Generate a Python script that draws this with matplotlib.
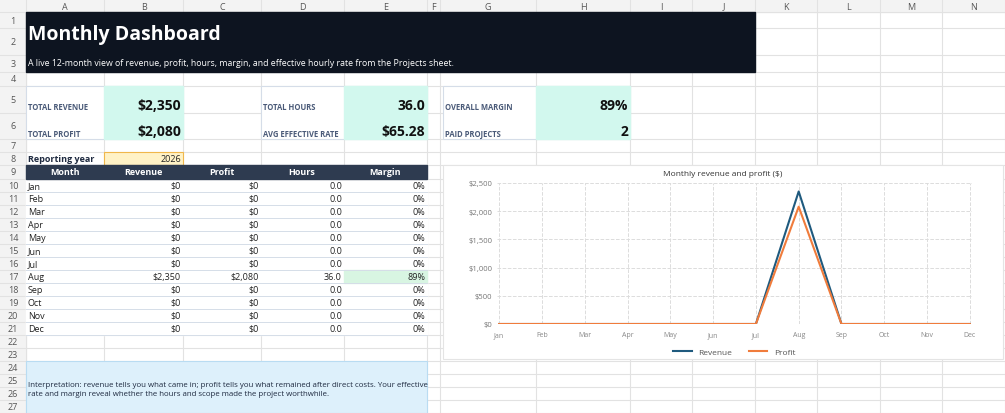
import matplotlib.pyplot as plt
from matplotlib.patches import Rectangle

plt.rcParams['font.family'] = ['Open Sans', 'DejaVu Sans']

months = ['Jan', 'Feb', 'Mar', 'Apr', 'May', 'Jun', 'Jul', 'Aug', 'Sep', 'Oct', 'Nov', 'Dec']
revenue = [0, 0, 0, 0, 0, 0, 0, 2350, 0, 0, 0, 0]
profit = [0, 0, 0, 0, 0, 0, 0, 2080, 0, 0, 0, 0]
hours = [0, 0, 0, 0, 0, 0, 0, 36.0, 0, 0, 0, 0]
margin = [0, 0, 0, 0, 0, 0, 0, 89, 0, 0, 0, 0]
col_letters = ['A', 'B', 'C', 'D', 'E', 'F', 'G', 'H', 'I', 'J', 'K', 'L', 'M', 'N']

W, H = 1005, 414
fig = plt.figure(figsize=(W / 100, H / 100), dpi=100)
ax = fig.add_axes([0, 0, 1, 1])
ax.set_xlim(0, W)
ax.set_ylim(H, 0)
ax.axis('off')

cx = [26, 104, 183, 261, 344, 427, 440, 536, 630, 692, 755, 817, 880, 942, 1005]
ry = [13, 29, 56, 73, 87, 114, 140, 153, 166, 180] + [180 + 13 * k for k in range(1, 18)] + [414]
grid_c = '#e2e2e2'

# gridlines (under everything)
for x in cx:
    ax.plot([x, x], [0, H], color=grid_c, lw=0.8, zorder=0.5)
for y in ry:
    ax.plot([0, W], [y, y], color=grid_c, lw=0.8, zorder=0.5)
# headers
ax.add_patch(Rectangle((0, 0), W, 13, color='#f3f3f3', zorder=0.4))
ax.add_patch(Rectangle((0, 0), 26, H, color='#f3f3f3', zorder=0.4))
for i, l in enumerate(col_letters):
    ax.text((cx[i] + cx[i + 1]) / 2, 7, l, ha='center', va='center', fontsize=6.5, color='#555')
for i in range(len(ry) - 1):
    ax.text(13, (ry[i] + ry[i + 1]) / 2, str(i + 1), ha='center', va='center', fontsize=6.5, color='#555')

# title block
ax.add_patch(Rectangle((26, 13), 729, 60, color='#0d1420'))
ax.text(28, 35, 'Monthly Dashboard', color='white', fontsize=14, fontweight='bold', va='center')
ax.text(28, 64, 'A live 12-month view of revenue, profit, hours, margin, and effective hourly rate from the Projects sheet.',
        color='white', fontsize=6.3, va='center')

# KPI cards
cards = [(26, 104, 183, [('TOTAL REVENUE', '$2,350'), ('TOTAL PROFIT', '$2,080')]),
         (261, 344, 427, [('TOTAL HOURS', '36.0'), ('AVG EFFECTIVE RATE', '$65.28')]),
         (443, 536, 630, [('OVERALL MARGIN', '89%'), ('PAID PROJECTS', '2')])]
for x0, xm, x1, items in cards:
    ax.add_patch(Rectangle((x0, 87), x1 - x0, 53, facecolor='white', edgecolor='#d5dde8', lw=0.8))
    ax.add_patch(Rectangle((xm, 87), x1 - xm, 53, color='#d2f8ee'))
    for (lab, val), yl, yv in zip(items, [108, 135], [106, 132]):
        ax.text(x0 + 2, yl, lab, fontsize=5.5, fontweight='bold', color='#4a5a78', va='center')
        ax.text(x1 - 2, yv, val, fontsize=10, fontweight='bold', color='#111', va='center', ha='right')

# reporting year
ax.text(28, 160, 'Reporting year', fontsize=6.5, fontweight='bold', color='#1e2a40', va='center')
ax.add_patch(Rectangle((104, 153), 79, 13, facecolor='#fff2c6', edgecolor='#f0b74a', lw=0.8))
ax.text(181, 160, '2026', fontsize=6.5, color='#222', ha='right', va='center')

# table
ax.add_patch(Rectangle((26, 166), 401, 14, color='#2e3b50'))
for h, x in zip(['Month', 'Revenue', 'Profit', 'Hours', 'Margin'], [65, 143, 222, 302, 385]):
    ax.text(x, 173, h, color='white', fontsize=6.5, fontweight='bold', ha='center', va='center')
for i, m in enumerate(months):
    y = 186.5 + 13 * i
    ax.add_patch(Rectangle((26, y - 6.5), 401, 13, color='white', zorder=0.6))
    ax.plot([26, 427], [y + 6.5, y + 6.5], color='#d5dde8', lw=0.7)
    if margin[i] > 0:
        ax.add_patch(Rectangle((344, y - 6.5), 83, 13, color='#d8f5e2'))
    ax.text(28, y, m, fontsize=6.5, color='#222', va='center')
    ax.text(181, y, f'${revenue[i]:,.0f}', fontsize=6.5, color='#222', va='center', ha='right')
    ax.text(259, y, f'${profit[i]:,.0f}', fontsize=6.5, color='#222', va='center', ha='right')
    ax.text(342, y, f'{hours[i]:.1f}', fontsize=6.5, color='#222', va='center', ha='right')
    ax.text(425, y, f'{margin[i]}%', fontsize=6.5, color='#222', va='center', ha='right')

# interpretation box
ax.add_patch(Rectangle((26, 362), 401, 52, facecolor='#ddf0fb', edgecolor='#b9dcf2', lw=0.8))
ax.text(28, 390, 'Interpretation: revenue tells you what came in; profit tells you what remained after direct costs. Your effective\n'
        'rate and margin reveal whether the hours and scope made the project worthwhile.',
        fontsize=5.7, color='#1e2a40', va='center', linespacing=1.5)

# chart frame
ax.add_patch(Rectangle((443, 166), 560, 194, facecolor='white', edgecolor='#e4e4e4', lw=0.8))
ax.text(723, 175, 'Monthly revenue and profit ($)', fontsize=6, color='#333', ha='center', va='center')
cax = fig.add_axes([497 / W, 1 - 325 / H, 475 / W, (325 - 184) / H])
xs = range(len(months))
cax.plot(xs, revenue, color='#1f5a7e', lw=1.5, label='Revenue')
cax.plot(xs, profit, color='#f07c3c', lw=1.5, label='Profit')
cax.set_ylim(0, 2500)
cax.set_xlim(-0.05, 11.05)
cax.set_yticks([0, 500, 1000, 1500, 2000, 2500])
cax.set_yticklabels(['$0', '$500', '$1,000', '$1,500', '$2,000', '$2,500'])
cax.set_xticks(list(xs))
cax.set_xticklabels(months)
cax.tick_params(axis='y', labelsize=5.5, colors='#777', length=0)
cax.tick_params(axis='x', labelsize=5, colors='#888', length=0, pad=5)
cax.grid(True, linestyle='--', color='#dcdcdc', lw=0.7)
for s in cax.spines.values():
    s.set_visible(False)
cax.legend(loc='upper center', bbox_to_anchor=(0.5, -0.12), ncol=2, frameon=False, fontsize=6,
           labelcolor='#555', handlelength=2.2)

fig.savefig('out.png', dpi=100)
